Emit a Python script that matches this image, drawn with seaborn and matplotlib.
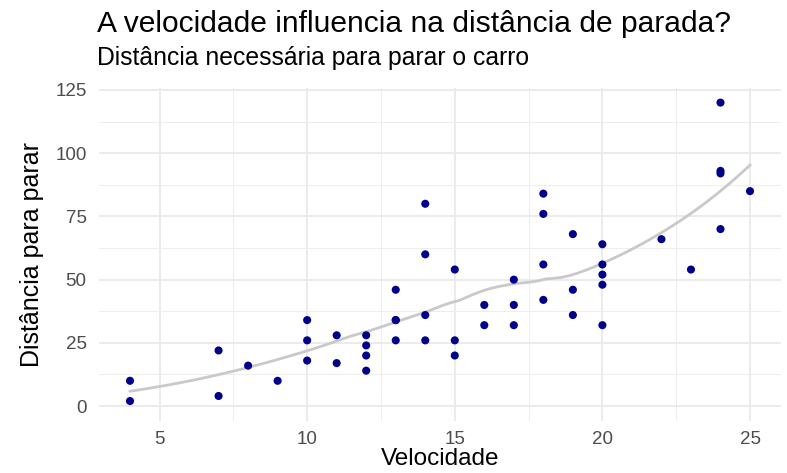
import numpy as np
import pandas as pd
import matplotlib
matplotlib.use("Agg")
import matplotlib.pyplot as plt
import seaborn as sns

speed = [4, 4, 7, 7, 8, 9, 10, 10, 10, 11, 11, 12, 12, 12, 12, 13, 13, 13, 13,
         14, 14, 14, 14, 15, 15, 15, 16, 16, 17, 17, 17, 18, 18, 18, 18, 19, 19,
         19, 20, 20, 20, 20, 20, 22, 23, 24, 24, 24, 24, 25]
dist = [2, 10, 4, 22, 16, 10, 18, 26, 34, 17, 28, 14, 20, 24, 28, 26, 34, 34, 46,
        26, 36, 60, 80, 20, 26, 54, 32, 40, 32, 40, 50, 42, 56, 76, 84, 36, 46,
        68, 32, 48, 52, 56, 64, 66, 54, 70, 92, 93, 120, 85]
x_ticks = [5, 10, 15, 20, 25]
y_ticks = [0, 25, 50, 75, 100, 125]

title = "A velocidade influencia na distância de parada?"
subtitle = "Distância necessária para parar o carro"
xlabel = "Velocidade"
ylabel = "Distância para parar"

df = pd.DataFrame({"speed": speed, "dist": dist})


def loess(x, y, grid, span=0.75):
    x = np.asarray(x, float)
    y = np.asarray(y, float)
    n = len(x)
    q = int(np.floor(n * span))
    out = []
    for x0 in grid:
        d = np.abs(x - x0)
        h = np.sort(d)[q - 1]
        u = np.clip(d / h, 0, 1)
        w = (1 - u ** 3) ** 3
        X = np.column_stack([np.ones(n), x - x0, (x - x0) ** 2])
        W = np.sqrt(w)
        beta, *_ = np.linalg.lstsq(X * W[:, None], y * W, rcond=None)
        out.append(beta[0])
    return np.array(out)


grid = np.linspace(min(speed), max(speed), 80)
smooth = pd.DataFrame({"speed": grid, "dist": loess(speed, dist, grid)})

plt.rcParams["font.family"] = ["Liberation Sans", "DejaVu Sans"]
fig = plt.figure(figsize=(7.87, 4.73), dpi=100)
ax = fig.add_axes([0.1258, 0.1099, 0.8666, 0.7047])

sns.scatterplot(data=df, x="speed", y="dist", color="#00008B", s=34,
                edgecolor="none", ax=ax, zorder=3)
sns.lineplot(data=smooth, x="speed", y="dist", color="#C9C9C9", lw=2.0,
             ax=ax, zorder=2)

ax.set_xticks(x_ticks)
ax.set_yticks(y_ticks)
ax.set_xticks([7.5, 12.5, 17.5, 22.5], minor=True)
ax.set_yticks([12.5, 37.5, 62.5, 87.5, 112.5], minor=True)
ax.set_xlim(2.95, 26.05)
ax.set_ylim(-5.9, 125.9)
ax.grid(which="major", color="#EBEBEB", lw=1.4)
ax.grid(which="minor", color="#EEEEEE", lw=0.8)
ax.set_axisbelow(True)
for s in ax.spines.values():
    s.set_visible(False)
ax.tick_params(which="both", length=0, colors="#4D4D4D", labelsize=13.5)
ax.tick_params(axis="x", pad=7)
ax.tick_params(axis="y", pad=9)
ax.set_xlabel(xlabel, fontsize=17.5, color="black", labelpad=0.5)
ax.set_ylabel(ylabel, fontsize=18, color="black", labelpad=8)

fig.text(0.123, 0.933, title, fontsize=21.6, color="black", ha="left", va="baseline")
fig.text(0.123, 0.8626, subtitle, fontsize=17.8, color="black", ha="left", va="baseline")

fig.savefig("out.png", dpi=100)
